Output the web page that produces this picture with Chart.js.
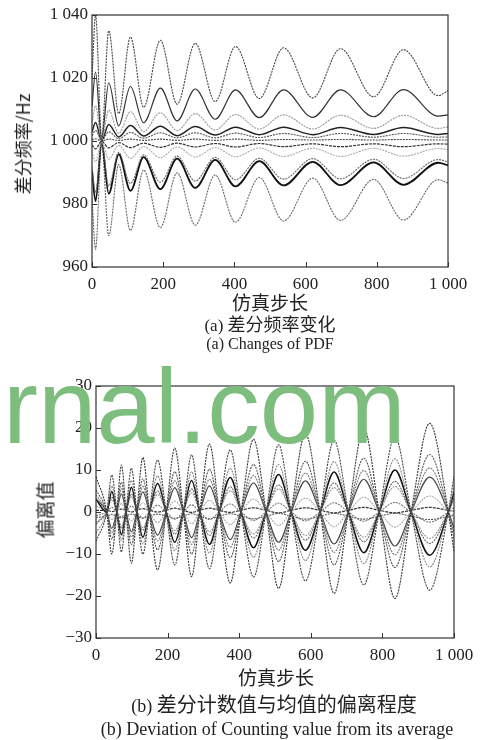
<!DOCTYPE html>
<html><head><meta charset="utf-8">
<script src="https://cdn.jsdelivr.net/npm/chart.js@4.4.0/dist/chart.umd.min.js"></script>
<style>
body{margin:0;width:485px;height:740px;background:#fff;position:relative;overflow:hidden;font-family:"Liberation Serif","Noto Sans CJK SC",serif;color:#222;}
canvas{position:absolute;left:0;}
.t{position:absolute;white-space:nowrap;line-height:1;transform:translate(-50%,-50%);}
.cjk{font-family:"Noto Sans CJK SC",sans-serif;}
.rot{transform:translate(-50%,-50%) rotate(-90deg);}
#wm{position:absolute;left:3px;top:354px;font-family:"Liberation Sans",Arial,sans-serif;font-size:105px;line-height:1;color:#7dbd7d;z-index:5;white-space:nowrap;}
</style></head><body>
<canvas id="c1" width="485" height="300" style="top:0;width:485px;height:300px"></canvas>
<canvas id="c2" width="485" height="300" style="top:370px;width:485px;height:300px"></canvas>

<div class="t rot cjk" style="left:22px;top:144px;font-size:18px">差分频率/Hz</div>
<div class="t cjk" style="left:270px;top:301px;font-size:19px">仿真步长</div>
<div class="t" style="left:270px;top:324px;font-size:17px">(a) <span class="cjk" style="font-size:18px">差分频率变化</span></div>
<div class="t" style="left:270px;top:344px;font-size:16px">(a) Changes of PDF</div>

<div class="t rot cjk" style="left:44px;top:510px;font-size:19px">偏离值</div>
<div class="t cjk" style="left:276px;top:676px;font-size:19px">仿真步长</div>
<div class="t" style="left:274px;top:704px;font-size:18px">(b) <span class="cjk" style="font-size:20px">差分计数值与均值的偏离程度</span></div>
<div class="t" style="left:277px;top:729px;font-size:18px">(b) Deviation of Counting value from its average</div>

<div id="wm">rnal.com</div>

<script>
// ---------- shared tick data ----------
const xTickValues = [0, 200, 400, 600, 800, 1000];
const xTickLabels = ['0', '200', '400', '600', '800', '1 000'];
const topYTickValues = [960, 980, 1000, 1020, 1040];
const topYTickLabels = ['960', '980', '1 000', '1 020', '1 040'];
const botYTickValues = [-30, -20, -10, 0, 10, 20, 30];
const botYTickLabels = ['\u221230', '\u221220', '\u221210', '0', '10', '20', '30'];

// ---------- chart (a): differential frequency ----------
const topX = [0, 10, 27, 47, 75, 108, 145, 192, 239, 290, 346, 403, 470, 538, 620, 698, 791, 875, 972, 1000];
const top1 = [1020, 1040, 1001, 1035, 1008.7, 1033, 1010.7, 1032, 1011.7, 1031, 1012.5, 1030, 1013.5, 1029.6, 1013.7, 1029.3, 1014, 1029, 1014.4, 1016];
const top2 = [1010.9, 1021.9, 1000.6, 1018.5, 1004.8, 1017.3, 1005.8, 1016.8, 1006.4, 1016.5, 1006.9, 1016.2, 1007.4, 1016.2, 1007.5, 1016.2, 1007.7, 1016.3, 1007.9, 1008.3];
const top3 = [1005.6, 1011.2, 1000.3, 1009.8, 1002.4, 1009.3, 1003.0, 1009.0, 1003.3, 1008.7, 1003.5, 1008.4, 1003.8, 1008.3, 1003.8, 1008.2, 1004.0, 1008.2, 1004.0, 1004.5];
const top4 = [1002.9, 1005.9, 1000.2, 1005.2, 1001.3, 1004.9, 1001.6, 1004.7, 1001.7, 1004.6, 1001.9, 1004.4, 1002.0, 1004.4, 1002.0, 1004.3, 1002.1, 1004.3, 1002.1, 1002.4];
const top5 = [1001.7, 1003.3, 1000.1, 1002.9, 1000.7, 1002.7, 1000.9, 1002.6, 1001.0, 1002.6, 1001.0, 1002.5, 1001.1, 1002.4, 1001.1, 1002.4, 1001.2, 1002.4, 1001.2, 1001.3];
const top6 = [1000.4, 1000.7, 1000.0, 1000.6, 1000.2, 1000.6, 1000.2, 1000.6, 1000.2, 1000.6, 1000.2, 1000.6, 1000.2, 1000.5, 1000.3, 1000.5, 1000.3, 1000.5, 1000.3, 1000.3];
const top7 = [998.8, 997.5, 999.9, 997.8, 999.5, 997.9, 999.3, 998.0, 999.3, 998.1, 999.2, 998.1, 999.2, 998.2, 999.1, 998.2, 999.1, 998.2, 999.1, 999.0];
const top8 = [996.7, 993.4, 999.8, 994.2, 998.6, 994.5, 998.2, 994.7, 998.1, 994.9, 997.9, 995.0, 997.8, 995.1, 997.7, 995.1, 997.7, 995.2, 997.6, 997.3];
const top9 = [991.8, 983.6, 999.6, 985.7, 996.4, 986.5, 995.6, 986.9, 995.2, 987.3, 994.8, 987.7, 994.5, 987.9, 994.4, 988.0, 994.2, 988.1, 994.1, 993.4];
const top10 = [990.4, 980.9, 999.5, 983.3, 995.8, 984.2, 994.9, 984.7, 994.4, 985.1, 994.0, 985.6, 993.6, 985.9, 993.4, 986.0, 993.2, 986.1, 993.1, 992.3];
const top11 = [982.0, 965.6, 999.1, 969.9, 992.5, 971.6, 990.8, 972.5, 989.9, 973.3, 989.2, 974.2, 988.4, 974.6, 988.2, 974.8, 987.8, 974.9, 987.7, 986.7];

// ---------- chart (b): deviation from average ----------
const lensX = [0, 44, 71, 99, 131, 172, 220, 267, 317, 375, 440, 510, 585, 665, 748, 835, 932, 1000];
const nodeX = [30, 58, 84, 114, 149, 196, 244, 290, 344, 405, 475, 545, 626, 705, 791, 880, 984];
const devA = [8.4, -10, 11.2, -12.2, 13, -13.8, 15.2, -15.4, 16.2, -16.9, 17.3, -18.2, 18.7, -19.4, 19.9, -20.6, 21.1, -9.5];
const devB = [-7, 8.8, -9.5, 10.4, -10, 12.4, -12.6, 13.6, -13.5, 14.8, -15.5, 16, -16.4, 17.1, -17.4, 17.9, -18.6, 8.5];
const devC = [5.3, -6.5, 7.1, -7.8, 7.9, -9.0, 9.6, -10.0, 10.2, -10.9, 11.3, -11.8, 12.1, -12.6, 12.8, -13.2, 13.7, -6.2];
const devD = [-5.1, 6.2, -6.8, 7.5, -7.6, 8.6, -9.2, 9.6, -9.8, 10.4, -10.8, 11.3, -11.6, 12.0, -12.3, 12.7, -13.1, 5.9];
const devI = [4.1, -5.0, 5.5, -6.0, 6.1, -6.9, 7.4, -7.7, 7.8, -8.4, 8.7, -9.1, 9.3, -9.6, 9.9, -10.2, 10.5, -4.8];
const devE = [3.2, -3.9, 4.3, -4.7, 4.8, -5.5, 5.8, -6.1, 6.2, -6.6, 6.9, -7.2, 7.4, -7.6, 7.8, -8.1, 8.3, -3.8];
const devF = [3.0, 4.9, -5.4, 5.9, -6.0, 6.8, -7.2, 7.5, -7.7, 8.2, -8.5, 8.9, -9.1, 9.5, -9.7, 10.0, -10.3, 4.7];
const devM = [-2.9, 3.6, -3.9, 4.3, -4.4, 5.0, -5.3, 5.5, -5.6, 6.0, -6.2, 6.5, -6.7, 6.9, -7.1, 7.3, -7.5, 3.4];
const devG = [1.5, -1.8, 2.0, -2.1, 2.2, -2.5, 2.6, -2.8, 2.8, -3.0, 3.1, -3.2, 3.3, -3.5, 3.5, -3.6, 3.8, -1.7];
const devH = [-2.5, 3.0, -3.3, 3.6, -3.7, 4.2, -4.4, 4.6, -4.7, 5.1, -5.2, 5.5, -5.6, 5.8, -6.0, 6.1, -6.3, 2.9];
const devJ = [-0.9, 1.1, -1.2, 1.4, -1.4, 1.6, -1.7, 1.7, -1.8, 1.9, -2.0, 2.1, -2.1, 2.2, -2.2, 2.3, -2.4, 1.1];
const devK = [0.4, 0.1, 0.7, 0.0, 0.8, 0.0, 0.9, -0.1, 0.9, -0.1, 1.0, -0.2, 1.0, -0.2, 1.1, -0.2, 1.1, 0.2];
const devL = [-1.3, -0.6, -1.4, -0.5, -1.5, -0.5, -1.5, -0.4, -1.6, -0.4, -1.6, -0.3, -1.7, -0.3, -1.7, -0.3, -1.8, -0.7];
// value of each series where the curves cross (node points)
const nodeLevelK = 0.4;
const nodeLevelL = -1.0;

// ---------- helpers ----------
function topPoints(vals) { return topX.map((x, i) => ({x, y: vals[i]})); }
function devPoints(lens, level) {
  const pts = [];
  for (let i = 0; i < lensX.length; i++) {
    pts.push({x: lensX[i], y: lens[i]});
    if (i < nodeX.length) pts.push({x: nodeX[i], y: level});
  }
  return pts;
}
function ds(data, color, width, dash) {
  return {data, borderColor: color, borderWidth: width, borderDash: dash || [],
    pointRadius: 0, fill: false, cubicInterpolationMode: 'monotone'};
}

const framePlugin = {
  id: 'frame',
  afterDatasetsDraw(chart) {
    const {ctx, chartArea: a, scales: {x, y}} = chart;
    ctx.save();
    ctx.strokeStyle = '#333';
    ctx.lineWidth = 1.2;
    ctx.strokeRect(a.left, a.top, a.right - a.left, a.bottom - a.top);
    ctx.lineWidth = 1;
    ctx.beginPath();
    x.ticks.forEach(t => { const px = Math.round(x.getPixelForValue(t.value)) + 0.5;
      ctx.moveTo(px, a.bottom); ctx.lineTo(px, a.bottom - 5); });
    y.ticks.forEach(t => { const py = Math.round(y.getPixelForValue(t.value)) + 0.5;
      ctx.moveTo(a.left, py); ctx.lineTo(a.left + 5, py); });
    ctx.stroke();
    ctx.restore();
  }
};

const tickFont = {family: '"Liberation Serif", serif', size: 17};

function makeOptions(yMin, yMax, yStep, yVals, yLabels, yWidth, xHeight, pad) {
  return {
    responsive: false, animation: false, devicePixelRatio: 1,
    layout: {padding: pad},
    plugins: {legend: {display: false}, tooltip: {enabled: false}},
    scales: {
      x: {type: 'linear', min: 0, max: 1000,
        grid: {display: false, drawTicks: false}, border: {display: false},
        ticks: {stepSize: 200, padding: 7, color: '#222', font: tickFont, maxRotation: 0,
          callback: v => xTickLabels[xTickValues.indexOf(v)]},
        afterFit: s => { s.height = xHeight; }},
      y: {type: 'linear', min: yMin, max: yMax,
        grid: {display: false, drawTicks: false}, border: {display: false},
        ticks: {stepSize: yStep, padding: 4, color: '#222', font: tickFont,
          callback: v => yLabels[yVals.indexOf(v)]},
        afterFit: s => { s.width = yWidth; }}
    }
  };
}

new Chart(document.getElementById('c1'), {
  type: 'line',
  data: {datasets: [
    ds(topPoints(top1), '#444', 1.1, [2, 1]),
    ds(topPoints(top2), '#333', 1.2),
    ds(topPoints(top3), '#999', 1.1, [2, 1]),
    ds(topPoints(top4), '#222', 1.5),
    ds(topPoints(top5), '#555', 1.1, [2, 1]),
    ds(topPoints(top6), '#444', 1.1, [2, 1]),
    ds(topPoints(top7), '#333', 1.2, [3, 1]),
    ds(topPoints(top8), '#aaa', 1.1, [2, 1]),
    ds(topPoints(top9), '#666', 1.1, [2, 1]),
    ds(topPoints(top10), '#111', 1.8),
    ds(topPoints(top11), '#666', 1.1, [2, 1])
  ]},
  options: makeOptions(960, 1040, 20, topYTickValues, topYTickLabels, 92, 33,
    {top: 15, right: 37, left: 0, bottom: 0}),
  plugins: [framePlugin]
});

new Chart(document.getElementById('c2'), {
  type: 'line',
  data: {datasets: [
    ds(devPoints(devA, 0), '#333', 1.1, [2, 1]),
    ds(devPoints(devB, 0), '#444', 1.1, [2, 1]),
    ds(devPoints(devC, 0), '#555', 1.1, [2, 1]),
    ds(devPoints(devD, 0), '#888', 1.1, [2, 1]),
    ds(devPoints(devI, 0), '#777', 1.1, [2, 1]),
    ds(devPoints(devE, 0), '#444', 1.2),
    ds(devPoints(devF, 0), '#111', 1.5),
    ds(devPoints(devM, 0), '#666', 1.1, [2, 1]),
    ds(devPoints(devG, 0), '#aaa', 1.1, [2, 1]),
    ds(devPoints(devH, 0), '#999', 1.1, [2, 1]),
    ds(devPoints(devJ, 0), '#777', 1.1, [2, 1]),
    ds(devPoints(devK, nodeLevelK), '#333', 1.2, [3, 1]),
    ds(devPoints(devL, nodeLevelL), '#555', 1.1, [2, 1])
  ]},
  options: makeOptions(-30, 30, 10, botYTickValues, botYTickLabels, 96, 32,
    {top: 16, right: 31, left: 0, bottom: 0}),
  plugins: [framePlugin]
});
</script>
</body></html>
